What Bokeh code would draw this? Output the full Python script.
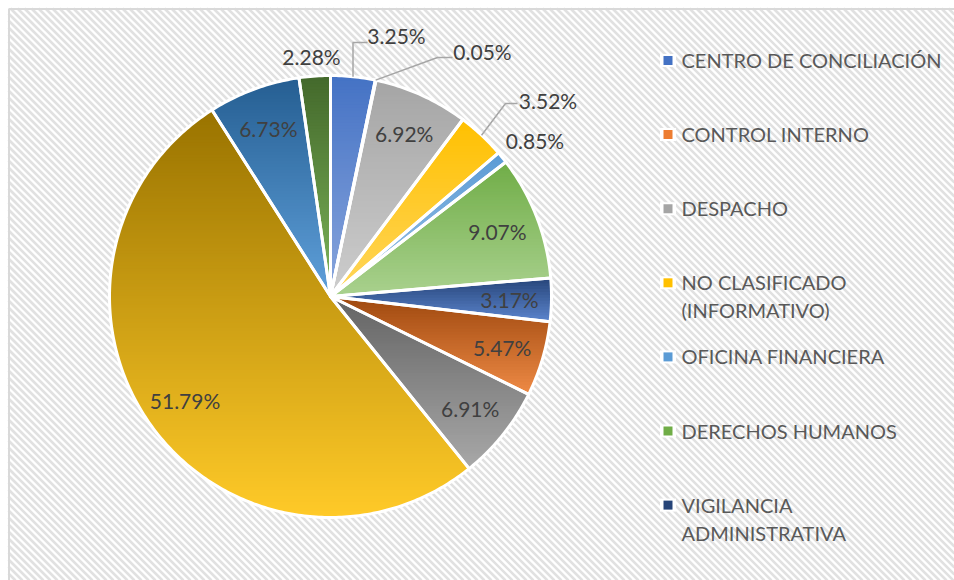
import math
from bokeh.plotting import figure
from bokeh.models import Range1d, BoxAnnotation
from bokeh.core.properties import value
from bokeh.embed import file_html
from bokeh.resources import INLINE

# ---------------- data ----------------
categories = ["CENTRO DE CONCILIACIÓN", "CONTROL INTERNO", "DESPACHO",
              "NO CLASIFICADO\n(INFORMATIVO)", "OFICINA FINANCIERA",
              "DERECHOS HUMANOS", "VIGILANCIA\nADMINISTRATIVA"]
values = [3.25, 0.05, 6.92, 3.52, 0.85, 9.07, 3.17, 5.47, 6.91, 51.79, 6.73, 2.28]
labels = [f"{v:.2f}%" for v in values]

# ---------------- styles ----------------
top_colors = ["#4472C4", "#ED7D31", "#A5A5A5", "#FFC000", "#5B9BD5", "#70AD47",
              "#264478", "#9E480E", "#636363", "#997300", "#255E91", "#43682B"]
bottom_colors = ["#8AA6DD", "#F4AA78", "#CDCDCD", "#FFD65C", "#9DC3E6", "#A9D18E",
                 "#5B84CC", "#EE8A45", "#A8A8A8", "#FFCA28", "#5FA0DB", "#7DB55A"]
legend_colors = top_colors[:7]

W, H = 954, 580
FONT = value("Lato")
PCT_SIZE = "21px"


def px(x):  # image pixel -> data x
    return x


def py(y):  # image pixel -> data y
    return H - y


CX, CY, R = px(330), py(296), 221.0


def hex2rgb(h):
    h = h.lstrip("#")
    return tuple(int(h[i:i + 2], 16) for i in (0, 2, 4))


def mix(c1, c2, t):
    a, b = hex2rgb(c1), hex2rgb(c2)
    return "#%02x%02x%02x" % tuple(int(round(a[i] + (b[i] - a[i]) * t)) for i in range(3))


def pt(angle_deg, r):
    a = math.radians(angle_deg)
    return (CX + r * math.sin(a), CY + r * math.cos(a))


def clip(poly, lo, hi):
    def half(pts, keep, yv):
        out = []
        for i in range(len(pts)):
            cur, prev = pts[i], pts[i - 1]
            ci, pi = keep(cur), keep(prev)
            if ci:
                if not pi:
                    t = (yv - prev[1]) / (cur[1] - prev[1])
                    out.append((prev[0] + t * (cur[0] - prev[0]), yv))
                out.append(cur)
            elif pi:
                t = (yv - prev[1]) / (cur[1] - prev[1])
                out.append((prev[0] + t * (cur[0] - prev[0]), yv))
        return out
    p1 = half(poly, lambda p: p[1] >= lo, lo)
    if len(p1) < 3:
        return []
    p2 = half(p1, lambda p: p[1] <= hi, hi)
    return p2 if len(p2) >= 3 else []


p = figure(width=W, height=H, output_backend="svg", toolbar_location=None,
           x_range=Range1d(0, W), y_range=Range1d(0, H),
           x_axis_type=None, y_axis_type=None, min_border=0,
           background_fill_color="white", border_fill_color="white")
p.grid.visible = False
p.outline_line_color = None

# ---------------- chart area background: diagonal pattern ----------------
BX0, BY0 = 8, 8
hx, hy = [], []
for c in range(BX0 - (H - BY0), W + 7, 7):
    ys = BY0 + max(0, BX0 - c)
    ye = min(H, BY0 + (W - c))
    if ye <= ys:
        continue
    hx.append([px(c + ys - BY0), px(c + ye - BY0)])
    hy.append([py(ys), py(ye)])
p.multi_line(hx, hy, line_color="#e1e1e1", line_width=2.6)
# lighter legend area
p.add_layout(BoxAnnotation(left=px(655), right=W, bottom=py(565), top=py(22),
                           fill_color="white", fill_alpha=0.4, line_color=None, level="underlay"))
# border of the chart area (left and top visible)
p.line([px(8.5), px(8.5), px(W)], [py(H), py(8.5), py(8.5)], line_color="#d9d9d9", line_width=2)

# ---------------- slices ----------------
total = sum(values)
band_xs, band_ys, band_cols = [], [], []
slice_xs, slice_ys = [], []
mids = []
cum = 0.0
for i, v in enumerate(values):
    a0 = 360.0 * cum / total
    a1 = 360.0 * (cum + v) / total
    cum += v
    mids.append((a0 + a1) / 2)
    n = max(2, int((a1 - a0) / 0.75) + 2)
    poly = [(CX, CY)] + [pt(a0 + (a1 - a0) * k / (n - 1), R) for k in range(n)]
    slice_xs.append([q[0] for q in poly])
    slice_ys.append([q[1] for q in poly])
    ymax = max(q[1] for q in poly)
    ymin = min(q[1] for q in poly)
    hgt = ymax - ymin
    nb = max(4, int(math.ceil(hgt / 3.0)))
    bh = hgt / nb
    for k in range(nb):
        hi = ymax - k * bh + 0.6
        lo = ymax - (k + 1) * bh - 0.6
        cp = clip(poly, lo, hi)
        if not cp:
            continue
        band_xs.append([q[0] for q in cp])
        band_ys.append([q[1] for q in cp])
        band_cols.append(mix(top_colors[i], bottom_colors[i], (k + 0.5) / nb))

p.patches(band_xs, band_ys, fill_color=band_cols, line_color=None)
p.patches(slice_xs, slice_ys, fill_alpha=0, line_color="white", line_width=3, line_join="round")

# ---------------- data labels ----------------
inside = [2, 5, 6, 7, 8, 9, 10]
ix, iy, it = [], [], []
for i in inside:
    x, y = pt(mids[i], 0.81 * R)
    ix.append(x); iy.append(y); it.append(labels[i])
p.text(ix, iy, it, text_align="center", text_baseline="middle", text_font=FONT,
       text_font_size=PCT_SIZE, text_color="#404040")

# outside labels: label centre (image px) and leader elbow (image px) or None
outside = {0: ((396, 35), [(352.5, 42), (367, 42)]),
           1: ((482, 51), [(437, 57), (452, 57)]),
           3: ((547.5, 100), [(505, 103), (517, 103)]),
           4: ((534.5, 140), None),
           11: ((311, 55.5), None)}
ox, oy, ot = [], [], []
lxs, lys = [], []
for i, (pos, elbow) in outside.items():
    ox.append(px(pos[0])); oy.append(py(pos[1])); ot.append(labels[i])
    if elbow:
        s = pt(mids[i], R)
        lxs.append([s[0]] + [px(e[0]) for e in elbow])
        lys.append([s[1]] + [py(e[1]) for e in elbow])
p.multi_line(lxs, lys, line_color="#A6A6A6", line_width=1.5)
p.text(ox, oy, ot, text_align="center", text_baseline="middle", text_font=FONT,
       text_font_size=PCT_SIZE, text_color="#404040")

# ---------------- legend ----------------
LEG_Y0, LEG_DY, LINE_DY = 59.5, 74.1, 28
mx, my = [], []
tx, ty, tt = [], [], []
for i, lab in enumerate(categories):
    yy = LEG_Y0 + i * LEG_DY
    mx.append(px(667.5)); my.append(py(yy + 0.5))
    for j, ln in enumerate(lab.split("\n")):
        tx.append(px(681)); ty.append(py(yy + j * LINE_DY)); tt.append(ln)
p.rect(mx, my, width=16, height=13, fill_color="white", line_color=None)
p.rect(mx, my, width=9, height=9, fill_color=legend_colors, line_color=None)
p.text(tx, ty, tt, text_align="left", text_baseline="middle", text_font=FONT,
       text_font_size="20px", text_color="#595959")

open("out.html", "w").write(file_html(p, INLINE))
